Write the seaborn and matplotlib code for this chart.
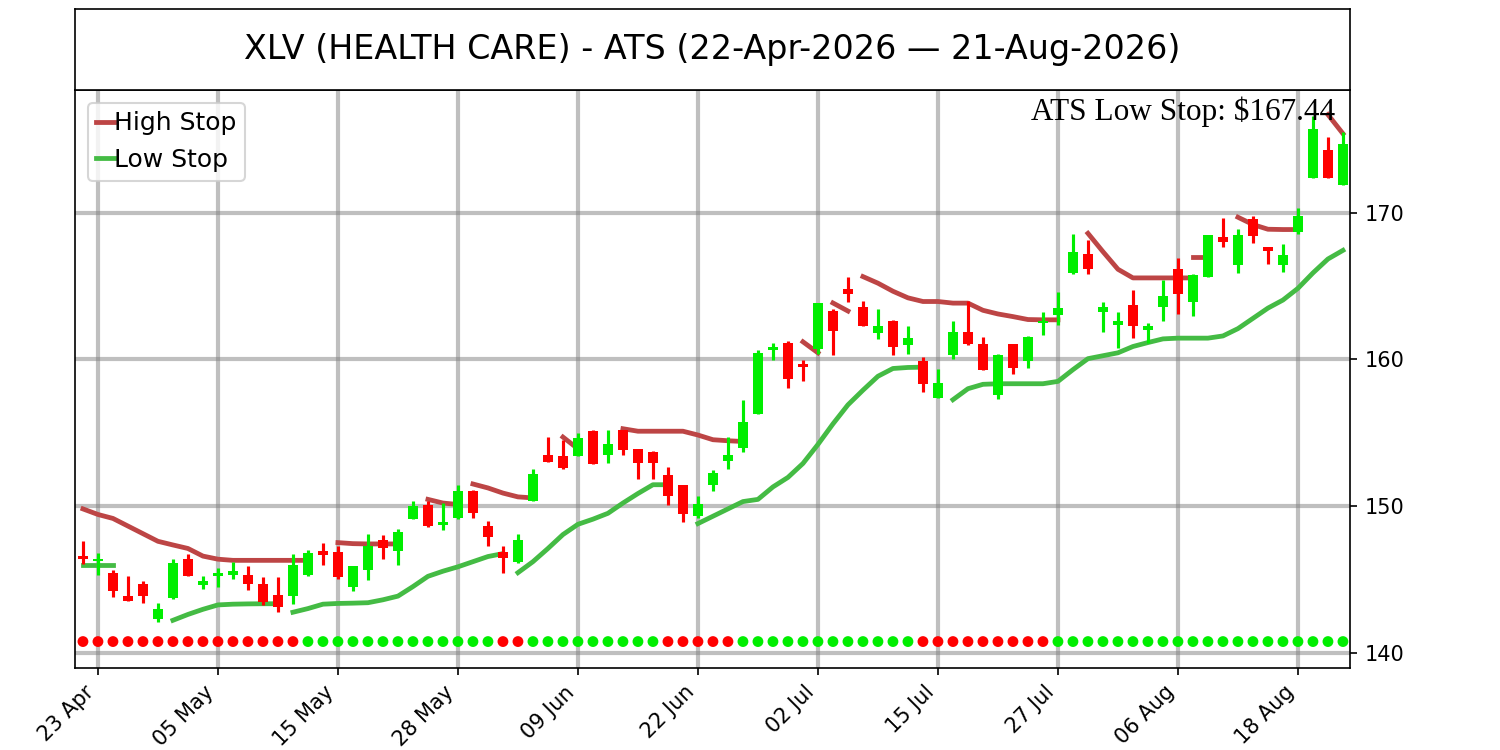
import numpy as np
import pandas as pd
import matplotlib
matplotlib.use("Agg")
import matplotlib.pyplot as plt
import seaborn as sns
from matplotlib.lines import Line2D

# ---------------- data ----------------
dates = pd.bdate_range("2026-04-22", "2026-08-21", freq="C",
                       holidays=["2026-05-25", "2026-06-19", "2026-07-03"])

opens = [146.6, 146.25, 145.4, 143.85, 144.7, 142.3, 143.7, 146.4, 144.6, 145.25,
         145.3, 145.3, 144.7, 143.9, 143.85, 145.3, 146.95, 146.85, 144.5, 145.6,
         147.65, 146.95, 149.1, 150.1, 148.7, 149.15, 151.0, 148.6, 146.85, 146.15,
         150.35, 153.5, 153.4, 153.4, 155.1, 153.5, 155.15, 153.9, 153.7, 152.1,
         151.4, 149.35, 151.45, 153.1, 153.95, 156.3, 160.65, 161.1, 159.7, 160.7,
         163.3, 164.8, 163.55, 161.8, 162.6, 161.0, 159.9, 157.35, 160.3, 161.9,
         161.05, 157.6, 161.05, 159.9, 162.45, 163.0, 165.9, 167.2, 163.2, 162.35,
         163.7, 162.0, 163.6, 166.2, 163.9, 165.65, 168.35, 166.45, 169.55, 167.7,
         166.45, 168.7, 172.4, 174.3, 171.9]
highs = [147.6, 146.8, 145.6, 145.25, 144.9, 143.35, 146.35, 146.7, 145.25, 145.75,
         146.2, 145.9, 145.15, 145.15, 146.7, 147.0, 147.45, 147.25, 145.9, 148.1,
         148.05, 148.4, 150.35, 150.35, 150.2, 151.4, 151.1, 148.95, 147.3, 148.1,
         152.5, 154.7, 154.5, 155.0, 155.15, 155.2, 155.2, 153.9, 153.75, 152.65,
         151.4, 150.65, 152.45, 154.7, 157.25, 160.65, 161.1, 161.25, 159.95, 163.85,
         163.45, 165.65, 164.0, 163.45, 162.7, 162.3, 160.15, 159.35, 162.6, 164.0,
         161.5, 160.4, 161.05, 161.6, 163.25, 164.6, 168.55, 168.15, 163.95, 163.25,
         164.75, 162.45, 165.45, 166.95, 165.85, 168.5, 169.65, 168.9, 169.75, 167.7,
         167.9, 170.3, 176.6, 175.2, 175.5]
lows = [146.05, 145.3, 143.8, 143.5, 143.35, 142.1, 143.65, 145.2, 144.35, 144.5,
        145.0, 144.3, 143.25, 142.75, 143.3, 145.2, 146.0, 145.0, 144.2, 144.95,
        146.4, 145.95, 149.1, 148.55, 148.35, 149.1, 149.15, 147.3, 145.4, 146.1,
        150.35, 153.0, 152.5, 153.4, 152.85, 152.95, 153.45, 151.85, 151.85, 150.05,
        148.9, 149.2, 151.05, 152.5, 153.65, 156.25, 159.95, 158.05, 158.55, 160.4,
        160.3, 163.95, 162.3, 161.4, 160.3, 160.4, 157.8, 157.35, 160.0, 160.95,
        159.25, 157.3, 159.0, 159.4, 161.65, 162.35, 165.85, 165.8, 161.9, 160.75,
        161.45, 161.1, 162.65, 163.1, 162.95, 165.6, 167.7, 165.9, 167.95, 166.5,
        165.95, 168.55, 172.35, 172.35, 171.9]
closes = [146.4, 146.4, 144.2, 143.5, 143.85, 143.0, 146.1, 145.2, 144.85, 145.45,
          145.55, 144.7, 143.45, 143.1, 146.0, 146.8, 146.65, 145.15, 145.9, 147.25,
          147.15, 148.2, 150.0, 148.6, 148.9, 151.0, 149.5, 147.9, 146.45, 147.7,
          152.2, 153.0, 152.6, 154.65, 152.85, 154.2, 153.8, 152.95, 152.95, 150.7,
          149.45, 150.15, 152.25, 153.45, 155.7, 160.45, 160.85, 158.65, 159.5, 163.85,
          161.95, 164.45, 162.3, 162.3, 160.85, 161.45, 158.3, 158.4, 161.9, 161.05,
          159.25, 160.3, 159.4, 161.55, 162.65, 163.5, 167.3, 166.2, 163.55, 162.6,
          162.25, 162.25, 164.3, 164.45, 165.75, 168.5, 168.0, 168.5, 168.4, 167.4,
          167.1, 169.8, 175.75, 172.35, 174.7]

# trend state per bar (R = bearish, G = bullish)
trend = list("RRRRRRRRRRRRRRR" "GGGGGGGGGGGGG" "RR" "GGGGGGGGG" "RRRRR"
             "GGGGGGGGGGGG" "RRRRRRRRR" "GGGGGGGGGGGGGGGGGGGG")

# stop line segments: (first bar index, values)
high_stop_segments = [
    (0, [149.8, 149.42, 149.15, 148.63, 148.11, 147.59, 147.34, 147.1, 146.58,
         146.37, 146.29, 146.29, 146.29, 146.29, 146.29, 146.29]),
    (17, [147.5, 147.43, 147.41, 147.41, 147.41]),
    (23, [150.45, 150.2, 150.1]),
    (26, [151.5, 151.23, 150.88, 150.62, 150.55]),
    (32, [154.7, 153.9]),
    (36, [155.27, 155.1, 155.1, 155.1, 155.1, 154.84, 154.52, 154.45, 154.4]),
    (48, [161.2, 160.45]),
    (50, [163.85, 163.3]),
    (52, [165.65, 165.2, 164.65, 164.2, 163.95, 163.95, 163.84, 163.84, 163.35,
          163.1, 162.92, 162.72, 162.7, 162.7]),
    (67, [168.6, 167.35, 166.15, 165.56, 165.56, 165.56, 165.56, 165.56]),
    (74, [167.0, 167.0]),
    (77, [169.7, 169.2, 168.88, 168.86, 168.86]),
    (83, [176.7, 175.4]),
]
low_stop_segments = [
    (0, [145.95, 145.95, 145.95]),
    (6, [142.2, 142.6, 142.95, 143.25, 143.3, 143.32, 143.33, 143.33]),
    (14, [142.75, 143.0, 143.3, 143.35, 143.37, 143.4, 143.6, 143.85, 144.5, 145.2,
          145.55, 145.85, 146.2, 146.55, 146.75]),
    (29, [145.45, 146.2, 147.1, 148.05, 148.75, 149.1, 149.5, 150.2, 150.85,
          151.45, 151.45]),
    (41, [148.8, 149.3, 149.8, 150.3, 150.45, 151.3, 151.95, 152.9, 154.2, 155.6,
          156.9, 157.9, 158.85, 159.38, 159.45, 159.47]),
    (58, [157.25, 158.0, 158.3, 158.34, 158.34, 158.34, 158.34, 158.5, 159.3, 160.05,
          160.25, 160.45, 160.88, 161.15, 161.4, 161.45, 161.45, 161.45, 161.6, 162.1,
          162.8, 163.5, 164.05, 164.85, 165.9, 166.85, 167.44]),
]

ticker = "XLV (HEALTH CARE)"
last_low_stop = 167.44
signal_level = 140.75
y_ticks = [140, 150, 160, 170]

# ---------------- styling ----------------
c_up, c_dn = "#00ee00", "#ff0000"
c_high, c_low = "#bd4545", "#44bb44"

fig = plt.figure(figsize=(10, 5), dpi=150)
ax = fig.add_axes([0.05, 0.11, 0.85, 0.77])
tax = fig.add_axes([0.05, 0.88, 0.85, 0.108])
tax.set_xticks([])
tax.set_yticks([])
title = f"{ticker} - ATS ({dates[0].strftime('%d-%b-%Y')} \u2014 {dates[-1].strftime('%d-%b-%Y')})"
tax.text(0.5, 0.5, title, ha="center", va="center", fontsize=16,
         transform=tax.transAxes)

x = np.arange(len(dates))
o = np.array(opens); c = np.array(closes)
h = np.array(highs); l = np.array(lows)
cols = [c_up if cc >= oo else c_dn for oo, cc in zip(o, c)]

ax.set_axisbelow(True)
ax.grid(True, color="gray", alpha=0.5, linewidth=2)

# stop lines
def seg_frame(segs):
    rows = []
    for k, (start, vals) in enumerate(segs):
        for j, v in enumerate(vals):
            rows.append({"x": start + j, "v": v, "seg": k})
    return pd.DataFrame(rows)

hdf = seg_frame(high_stop_segments)
ldf = seg_frame(low_stop_segments)
sns.lineplot(data=hdf, x="x", y="v", units="seg", estimator=None, color=c_high,
             linewidth=2.3, ax=ax, legend=False, zorder=2)
sns.lineplot(data=ldf, x="x", y="v", units="seg", estimator=None, color=c_low,
             linewidth=2.3, ax=ax, legend=False, zorder=2)

# candles
ax.vlines(x, l, h, colors=cols, linewidth=1.5, zorder=3)
ax.bar(x, np.abs(c - o), bottom=np.minimum(o, c), width=0.67, color=cols,
       linewidth=0, zorder=3)

# trend dots
sns.scatterplot(x=x, y=[signal_level] * len(x), hue=trend,
                palette={"R": c_dn, "G": c_up}, s=27, linewidth=0,
                legend=False, ax=ax, zorder=4)

ax.set_xlim(-0.53, len(x) - 0.53)
ax.set_ylim(138.98, 178.38)
ax.yaxis.tick_right()
ax.set_yticks(y_ticks)
ax.tick_params(axis="y", labelsize=10)
tick_pos = list(range(1, len(x), 8))
ax.set_xticks(tick_pos)
ax.set_xticklabels([dates[i].strftime("%d %b") for i in tick_pos], rotation=45,
                   ha="right", fontsize=10)
ax.set_xlabel("")
ax.set_ylabel("")

handles = [Line2D([], [], color=c_high, linewidth=2.3),
           Line2D([], [], color=c_low, linewidth=2.3)]
ax.legend(handles, ["High Stop", "Low Stop"], loc="upper left", fontsize=12,
          handlelength=0.7, handletextpad=0.0, labelspacing=0.5, borderpad=0.35)

ax.text(0.988, 0.988, f"ATS Low Stop: \\${last_low_stop:.2f}", transform=ax.transAxes,
        ha="right", va="top", fontsize=15, family="Liberation Serif", zorder=5)

fig.savefig("out.png", dpi=150)
